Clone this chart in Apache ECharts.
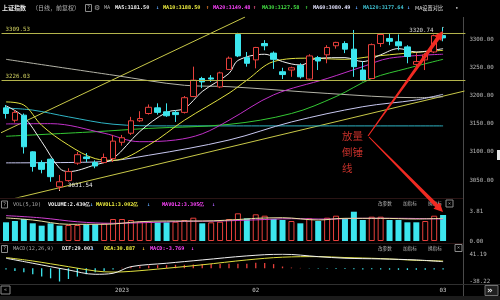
<!DOCTYPE html>
<html><head><meta charset="utf-8">
<script src="https://cdn.jsdelivr.net/npm/echarts@6/dist/echarts.min.js"></script>
<style>html,body{margin:0;padding:0;background:#000;overflow:hidden}#c{width:500px;height:300px}</style>
</head><body><div id="c"></div>
<script>
// ---------- data ----------
const TICK_POS  = [13, 28, 49];
const TICK_TEXT = ['2023', '02', '03'];

const OPEN  = [3178,3156,3165,3100,3081,3087,3038,3049,3080,3091,3081,3081,3088,3117,3133,3155,3168,3178,3171,3170,3170,3198,3230,3231,3215,3246,3308,3267,3263,3292,3275,3242,3245,3253,3229,3267,3272,3288,3292,3282,3245,3230,3292,3301,3295,3286,3255,3263,3277,3306];
const CLOSE = [3168,3170,3109,3074,3069,3056,3047,3065,3095,3088,3075,3090,3119,3125,3155,3159,3179,3170,3164,3166,3196,3227,3224,3229,3240,3266,3270,3257,3285,3288,3264,3237,3249,3233,3270,3261,3285,3294,3282,3251,3227,3290,3308,3296,3288,3269,3260,3272,3306,3302];
const LOW   = [3159,3152,3097,3065,3062,3047,3031.54,3047,3077,3082,3071,3080,3082,3111,3130,3153,3166,3166,3162,3153,3168,3197,3213,3224,3213,3245,3268,3251,3248,3280,3247,3229,3233,3230,3227,3245,3257,3283,3275,3233,3225,3229,3286,3289,3280,3257,3245,3245,3275,3296];
const HIGH  = [3183,3174,3168,3101,3085,3088,3059,3071,3100,3098,3085,3097,3130,3130,3162,3172,3184,3186,3186,3174,3199,3251,3233,3236,3242,3269,3311,3277,3286,3298,3278,3249,3251,3257,3273,3270,3289,3295,3296,3316,3260,3292,3310,3310,3308,3289,3275,3275,3308,3320.74];

const LEVELS = [3309.53, 3226.03];
const HIGH_IDX = 49, LOW_IDX = 6;

const MA5   = [[0,3181.5],[2,3162],[4,3118],[6,3071],[7,3065],[10,3077],[12,3088],[15,3136],[18,3170],[20,3177],[22,3207],[25,3239],[26,3262],[29,3273],[31,3260],[33,3254],[35,3266],[38,3267],[40,3260],[42,3272],[44,3283],[46,3277],[49,3283]];
const MA10  = [[0,3188.5],[2,3183],[4,3147],[7,3112],[10,3088],[12,3085],[16,3112],[20,3156],[25,3204],[27,3227],[30,3260],[34,3266],[38,3264],[41,3269],[45,3275],[49,3280]];
const MA20  = [[0,3149.5],[5,3150],[11,3133],[15,3118],[19,3121],[22,3132],[25,3156],[30,3201],[36,3230],[40,3251],[43,3266],[49,3273]];
const MA30  = [[0,3127.6],[10,3135.7],[16,3141.6],[25,3148.7],[32,3168],[37,3198],[41,3230],[45,3248],[49,3264]];
const MA60  = [[0,3080.5],[10,3082],[16,3094],[25,3121],[32,3153],[40,3180],[46,3192],[49,3202]];
const MA120 = [[0,3177.6],[3,3174],[7,3162],[12,3149],[18,3146],[25,3146],[49,3146]];
const GRAY_LINE = [[0,3264],[12,3236],[20,3218],[25,3215.5],[36,3203.6],[46,3196],[49,3197.7]];
const TREND_UP  = [[-0.67,3133],[26.8,3339]];
const TREND_LOW = [[1.0,3017.6],[51.4,3207.8]];

const VOLUME = [2.43,2.60,2.86,2.30,1.99,2.30,1.99,2.08,2.08,2.17,2.17,2.30,2.86,2.86,2.73,2.51,2.51,2.43,2.43,2.51,2.73,3.03,2.30,2.43,2.51,2.86,3.60,2.95,3.47,3.29,2.86,2.73,2.60,2.30,2.95,2.60,3.03,3.29,2.86,3.81,2.73,3.16,3.16,2.73,2.73,2.43,2.43,2.60,3.29,3.38];
const VOL_UP = [0,0,0,0,0,0,0,1,1,0,0,1,1,1,1,1,1,0,0,1,1,1,0,1,1,1,1,0,1,1,0,0,1,0,1,0,1,1,0,0,0,1,1,0,0,0,0,1,1,0];
const MAVOL1 = [[0,3.0],[3,2.73],[7,2.17],[11,2.17],[15,2.51],[18,2.6],[22,2.6],[27,2.86],[28,2.95],[31,3.03],[35,2.73],[38,2.95],[42,2.95],[46,2.86],[49,2.95]];
const MAVOL2 = [[0,3.3],[4,3.0],[8,2.5],[12,2.3],[16,2.4],[20,2.55],[24,2.6],[28,2.75],[32,2.9],[36,2.85],[40,2.95],[44,2.95],[49,2.85]];
const VOL_MAX = 3.81;

const MACD = [-3.77,-7.7,-11.6,-17.4,-24,-29,-38.2,-31,-24,-17.4,-11.6,-7.7,-3.5,1.5,4,6,8,9,9,10,10,11,12,12,12,13,13,13,16,15,12,5,2,1,-1,-1.5,-1.5,-2,-2,-3,-3.5,-3,-3.5,-4,-4.5,-5,-4.5,-4,-3.5,-3.77];
const DIF = [[0,29.0],[3,14.5],[7,-4.9],[10,-17.4],[12,-14.5],[14,4.6],[18,14.5],[22,24],[27,35.7],[31,40.6],[35,33.6],[38,29],[42,27],[46,24],[49,19.1]];
const DEA = [[0,30.9],[3,21],[7,4.6],[10,-7.8],[12,-11],[14,-9],[18,0],[22,10],[27,24],[31,32],[35,33.6],[38,31],[42,28],[46,23],[49,21]];
const MACD_MIN = -38.22, MACD_MAX = 41.19;
const PRICE_MIN = 3020, PRICE_MAX = 3339;

// ---------- layout ----------
const N = 52, SLOT = 8.92, GL = 1.54, GW = N * SLOT;
const UP = '#e8403c', DN = '#3ce6ee';
const CJK = '"Noto Sans CJK SC"', MONO = '"DejaVu Sans Mono"';
const CATS = Array.from({length: N}, (_, i) => String(i));

const chart = echarts.init(document.getElementById('c'), null, {renderer: 'canvas'});

function onlyExtremes(lo, hi) {
  return v => (Math.abs(v - lo) < 1e-6 || Math.abs(v - hi) < 1e-6) ? v.toFixed(2) : '';
}
const yLabel = {color: '#b8b8b8', fontSize: 5.8, fontFamily: MONO, margin: 4};

function maLine(name, data, color, xi, yi) {
  return {name, type: 'line', xAxisIndex: xi, yAxisIndex: yi, data, smooth: 0.35, symbol: 'none',
    lineStyle: {color, width: 1}, silent: true, z: 3};
}

const option = {
  backgroundColor: '#000',
  animation: false,
  grid: [
    {left: GL, top: 17, width: GW, height: 180},
    {left: GL, top: 211.7, width: GW, height: 29.3},
    {left: GL, top: 254, width: GW, height: 27.5}
  ],
  xAxis: [
    {type: 'category', gridIndex: 0, data: CATS, show: false},
    {type: 'value', gridIndex: 0, min: -0.5, max: N - 0.5, show: false},
    {type: 'category', gridIndex: 1, data: CATS, show: false},
    {type: 'value', gridIndex: 1, min: -0.5, max: N - 0.5, show: false},
    {type: 'category', gridIndex: 2, data: CATS, axisLine: {show: false}, axisTick: {show: false},
      axisLabel: {interval: 0, color: '#c8c8c8', fontSize: 5.8, fontFamily: MONO, margin: 6,
        formatter: (v, i) => { const k = TICK_POS.indexOf(i); return k >= 0 ? TICK_TEXT[k] : ''; }}},
    {type: 'value', gridIndex: 2, min: -0.5, max: N - 0.5, show: false}
  ],
  yAxis: [
    {type: 'value', gridIndex: 0, position: 'right', min: PRICE_MIN, max: PRICE_MAX, splitNumber: 6,
      axisLine: {show: false}, axisTick: {show: false}, splitLine: {show: false},
      axisLabel: Object.assign({}, yLabel, {showMinLabel: false, showMaxLabel: false, formatter: v => v.toFixed(2)})},
    {type: 'value', gridIndex: 1, position: 'right', min: 0, max: VOL_MAX, splitNumber: 1,
      axisLine: {show: false}, axisTick: {show: false}, splitLine: {show: false},
      axisLabel: Object.assign({}, yLabel, {showMinLabel: true, showMaxLabel: true, formatter: onlyExtremes(0, VOL_MAX)})},
    {type: 'value', gridIndex: 2, position: 'right', min: MACD_MIN, max: MACD_MAX, splitNumber: 2,
      axisLine: {show: false}, axisTick: {show: false}, splitLine: {show: false},
      axisLabel: Object.assign({}, yLabel, {showMinLabel: true, showMaxLabel: true, formatter: onlyExtremes(MACD_MIN, MACD_MAX)})}
  ],
  series: [
    maLine('GRAY', GRAY_LINE, '#b4b4a8', 1, 0),
    maLine('MA120', MA120, '#2fb4c4', 1, 0),
    maLine('MA60', MA60, '#c8c8f0', 1, 0),
    maLine('MA30', MA30, '#34c834', 1, 0),
    maLine('MA20', MA20, '#c030c8', 1, 0),
    maLine('MA10', MA10, '#e0e040', 1, 0),
    maLine('MA5', MA5, '#f0f0f0', 1, 0),
    {name: 'T1', type: 'line', xAxisIndex: 1, yAxisIndex: 0, data: TREND_UP, symbol: 'none', silent: true,
      lineStyle: {color: '#c8c848', width: 1}, z: 2},
    {name: 'T2', type: 'line', xAxisIndex: 1, yAxisIndex: 0, data: TREND_LOW, symbol: 'none', silent: true,
      lineStyle: {color: '#c8c848', width: 1}, z: 2},
    {name: 'K', type: 'candlestick', xAxisIndex: 0, yAxisIndex: 0, barWidth: 6, z: 4,
      data: OPEN.map((o, i) => [o, CLOSE[i], LOW[i], HIGH[i]]),
      itemStyle: {color: '#000', color0: DN, borderColor: UP, borderColor0: DN, borderWidth: 1},
      markLine: {silent: true, symbol: 'none', animation: false,
        lineStyle: {color: '#b4b44c', width: 1, type: 'solid'},
        label: {position: 'insideStartTop', distance: [4, 1], color: '#d0d060', fontSize: 5.8, fontFamily: MONO,
          formatter: p => p.value.toFixed(2)},
        data: LEVELS.map(v => ({yAxis: v}))},
      markPoint: {silent: true, symbol: 'circle', symbolSize: 1, animation: false,
        itemStyle: {color: '#fff'},
        data: [
          {coord: [HIGH_IDX, HIGH[HIGH_IDX]], value: HIGH[HIGH_IDX],
            label: {show: true, position: 'left', distance: 9, offset: [0, 3], color: '#d8d8d8', fontSize: 5.8, fontFamily: MONO, formatter: p => p.value.toFixed(2)}},
          {coord: [LOW_IDX, LOW[LOW_IDX]], value: LOW[LOW_IDX],
            label: {show: true, position: 'right', distance: 8, offset: [0, -5], color: '#e8e8e8', fontSize: 5.8, fontFamily: MONO, formatter: p => p.value.toFixed(2)}}
        ]}
    },
    {name: 'VOL', type: 'bar', xAxisIndex: 2, yAxisIndex: 1, barWidth: 6, z: 3,
      data: VOLUME.map((v, i) => ({value: v, itemStyle: VOL_UP[i]
        ? {color: '#000', borderColor: UP, borderWidth: 1}
        : {color: DN, borderColor: DN, borderWidth: 0}}))},
    maLine('MAVOL2', MAVOL2, '#d040d0', 3, 1),
    maLine('MAVOL1', MAVOL1, '#e8e0a0', 3, 1),
    {name: 'MACD', type: 'bar', xAxisIndex: 4, yAxisIndex: 2, barWidth: 1.3,
      data: MACD.map(v => ({value: v, itemStyle: {color: v >= 0 ? UP : DN}}))},
    maLine('DEA', DEA, '#e0e040', 5, 2),
    maLine('DIF', DIF, '#f0f0f0', 5, 2)
  ]
};

// ---------- annotations (header text, frame, arrows) ----------
function T(x, y, text, fill, size, fam, weight) {
  return {type: 'text', x, y, silent: true, z: 50,
    style: {text, fill, font: (weight || 'normal') + ' ' + size + 'px ' + fam, verticalAlign: 'middle', align: 'left'}};
}
function box(x, y, w, h, ch) {
  return [{type: 'rect', silent: true, z: 50, shape: {x, y, width: w, height: h}, style: {fill: 'none', stroke: '#8a8a8a', lineWidth: 1}},
          {type: 'text', silent: true, z: 50, x: x + w / 2, y: y + h / 2,
            style: {text: ch, fill: '#b0b0b0', font: '5px ' + MONO, align: 'center', verticalAlign: 'middle'}}];
}
function arrow(ox, oy, tx, ty, w0, w1, hw, hl) {
  const dx = tx - ox, dy = ty - oy, L = Math.hypot(dx, dy), ux = dx / L, uy = dy / L, nx = -uy, ny = ux;
  const bx = tx - ux * hl, by = ty - uy * hl;
  return {type: 'polygon', silent: true, z: 60, shape: {points: [
    [ox + nx * w0, oy + ny * w0], [bx + nx * w1, by + ny * w1], [bx + nx * hw, by + ny * hw], [tx, ty],
    [bx - nx * hw, by - ny * hw], [bx - nx * w1, by - ny * w1], [ox - nx * w0, oy - ny * w0]]},
    style: {fill: '#f02a22'}};
}
function hline(x1, x2, y, c) { return {type: 'line', silent: true, z: 1, shape: {x1, y1: y, x2, y2: y}, style: {stroke: c, lineWidth: 1}}; }
function vline(x, y1, y2, c) { return {type: 'line', silent: true, z: 1, shape: {x1: x, y1, x2: x, y2}, style: {stroke: c, lineWidth: 1}}; }

const F = 5.2;
const g = [];
// header row 1
g.push(T(2, 8, '上证指数', '#ececec', 6, CJK, 'bold'));
g.push(T(32, 8, '（日线，前复权）', '#b0b0b0', 6, CJK));
g.push(...box(85.5, 4.5, 6, 7, '?'));
g.push(T(94, 8, '⚙', '#a0a0a0', 7, '"DejaVu Sans"'));
g.push(T(104, 8, 'MA', '#b0b0b0', F, MONO));
[['MA5:3181.50', 115, '#f0f0f0'], ['↓', 156, '#60a8ff'], ['MA10:3188.50', 163, '#f0f040'], ['↑', 206, '#ff8a30'],
 ['MA20:3149.48', 213, '#ff44ff'], ['↑', 253, '#ff5a90'], ['MA30:3127.58', 262, '#44e044'], ['↑', 305, '#44e044'],
 ['MA60:3080.49', 313, '#e4e4ff'], ['↓', 355, '#60a8ff'], ['MA120:3177.64', 363, '#40c4d4'], ['↓', 407, '#60a8ff']]
  .forEach(([t, x, c]) => g.push(T(x, 8, t, c, F, MONO, 'bold')));
g.push(T(415, 8, 'MA设置对比', '#e0e0e0', 5.2, CJK));
g.push(T(455, 8, '•', '#c0c0c0', 6, MONO));
// volume header
g.push(...box(1.5, 201, 6, 7, '?'));
g.push(T(13, 204.5, 'VOL(5,10)', '#a8a8a8', F, MONO));
[['VOLUME:2.430亿', 48, '#f0f0f0'], ['↓', 90, '#60a8ff'], ['MAVOL1:3.002亿', 96, '#f0f040'], ['↓', 147, '#60a8ff'],
 ['MAVOL2:3.305亿', 162, '#ff44ff'], ['↓', 212, '#b060ff']]
  .forEach(([t, x, c]) => g.push(T(x, 204.5, t, c, F, MONO, 'bold')));
// macd header
g.push(...box(1.5, 245.5, 6, 7, '?'));
g.push(T(13, 249, 'MACD(12,26,9)', '#a8a8a8', F, MONO));
[['DIF:29.003', 62, '#f0f0f0'], ['↓', 91, '#60a8ff'], ['DEA:30.887', 104, '#f0f040'], ['↓', 142, '#f0c040'],
 ['MACD:-3.769', 150, '#ff44ff'], ['↓', 191, '#ff44ff']]
  .forEach(([t, x, c]) => g.push(T(x, 249, t, c, F, MONO, 'bold')));
// panel buttons
[[203.5, 446], [248, 455]].forEach(([y, bx]) => {
  g.push(T(378, y, '改参数', '#b4b4b4', 4.6, CJK));
  g.push(T(403, y, '加指标', '#b4b4b4', 4.6, CJK));
  g.push(T(428, y, '换指标', '#b4b4b4', 4.6, CJK));
  g.push(...box(bx, y - 3.5, 7, 7, '×'));
});
// frame
g.push(vline(463.5, 17, 296, '#4a4a4a'));
g.push(hline(0, 463, 198.5, '#2a1414'));
g.push(hline(0, 463, 243.5, '#2a1414'));
g.push(hline(0, 500, 284.5, '#303030'));
g.push({type: 'rect', silent: true, z: 1, shape: {x: 0, y: 296, width: 500, height: 4}, style: {fill: '#1c1c1c'}});
g.push(...box(1, 286, 9, 8, '«'));
g.push({type: 'rect', silent: true, z: 1, shape: {x: 485, y: 285.5, width: 13, height: 10}, style: {fill: '#202020', stroke: '#707070', lineWidth: 1}});
g.push(T(487, 290.5, '»', '#e0e0e0', 9, '"DejaVu Sans"', 'bold'));
g.push({type: 'rect', silent: true, z: 1, shape: {x: 497, y: 150, width: 3, height: 10}, style: {fill: '#e8e8e8'}});
// red annotation
g.push(T(342, 136, '放量', '#c4302a', 10.5, CJK));
g.push(T(342, 152, '倒锤', '#c4302a', 10.5, CJK));
g.push(T(342, 168, '线', '#c4302a', 10.5, CJK));
g.push(arrow(368, 136, 443, 31, 0.5, 2, 4.5, 9));
g.push(arrow(369, 137, 443, 212, 0.5, 2, 4.5, 9));
option.graphic = g;

chart.setOption(option);
</script></body></html>
